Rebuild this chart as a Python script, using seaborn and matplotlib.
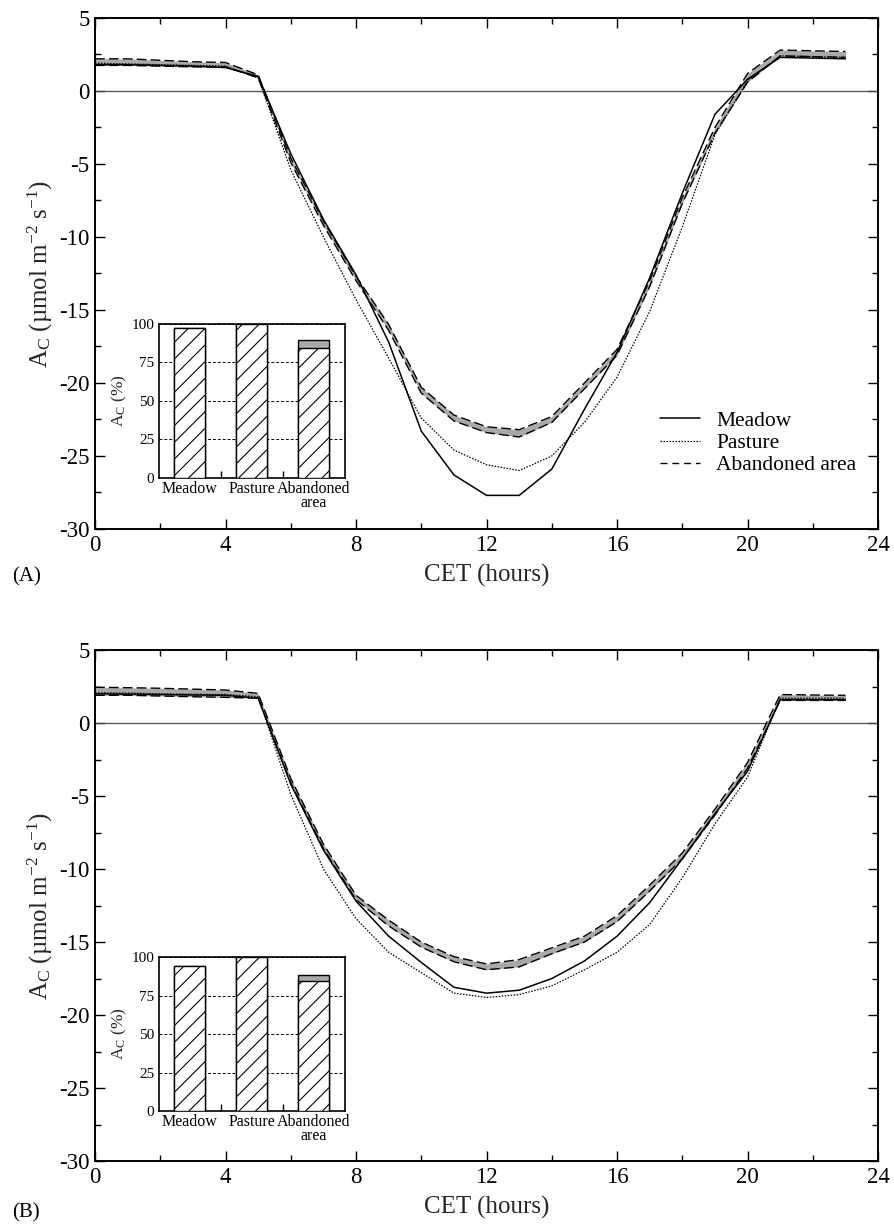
import matplotlib
matplotlib.use("Agg")
import matplotlib.pyplot as plt
from matplotlib.ticker import MultipleLocator, FixedLocator
from matplotlib.lines import Line2D
import pandas as pd
import seaborn as sns

# Hourly net CO2 exchange (A_C, µmol m-2 s-1) for three grassland managements
hours = list(range(24))

# Panel A
meadow_a = [1.8, 1.8, 1.75, 1.7, 1.6, 1.0, -4.3, -8.8, -12.6, -17.2, -23.3, -26.3,
            -27.7, -27.7, -25.9, -21.8, -17.9, -12.8, -7.0, -1.6, 0.8, 2.3, 2.25, 2.2]
pasture_a = [1.9, 1.85, 1.8, 1.75, 1.7, 0.9, -5.4, -10.0, -14.3, -18.3, -22.4, -24.6,
             -25.6, -26.0, -25.0, -22.7, -19.6, -15.1, -9.3, -3.0, 0.7, 2.4, 2.35, 2.3]
abandoned_a_low = [1.75, 1.75, 1.7, 1.65, 1.65, 0.9, -4.9, -9.2, -13.0, -16.4, -20.7, -22.6,
                   -23.4, -23.7, -22.7, -20.4, -18.1, -13.4, -7.7, -2.9, 0.6, 2.4, 2.35, 2.3]
abandoned_a_high = [2.2, 2.2, 2.1, 2.0, 1.95, 1.1, -4.6, -8.9, -12.7, -16.0, -20.3, -22.2,
                    -23.0, -23.2, -22.3, -20.0, -17.7, -13.0, -7.3, -2.5, 1.2, 2.8, 2.75, 2.7]

# Panel B
meadow_b = [2.0, 1.98, 1.95, 1.92, 1.9, 1.7, -4.2, -8.7, -12.2, -14.6, -16.4, -18.1,
            -18.5, -18.3, -17.5, -16.3, -14.6, -12.3, -9.3, -6.2, -3.3, 1.6, 1.6, 1.6]
pasture_b = [2.07, 2.05, 2.0, 1.97, 1.95, 1.8, -4.9, -10.0, -13.4, -15.7, -17.1, -18.5,
             -18.8, -18.6, -18.0, -16.9, -15.7, -13.8, -10.6, -6.9, -3.7, 1.7, 1.7, 1.7]
abandoned_b_low = [1.9, 1.9, 1.85, 1.8, 1.76, 1.7, -4.1, -8.6, -12.1, -13.9, -15.35, -16.35,
                   -16.9, -16.7, -15.8, -15.0, -13.6, -11.5, -9.3, -6.3, -3.1, 1.55, 1.55, 1.55]
abandoned_b_high = [2.45, 2.42, 2.38, 2.32, 2.26, 2.03, -3.8, -8.3, -11.8, -13.5, -15.0, -16.0,
                    -16.5, -16.2, -15.4, -14.6, -13.2, -11.1, -8.9, -5.9, -2.7, 1.95, 1.92, 1.9]

# Inset: daily A_C relative to the maximum (%)
inset_cats = ["Meadow", "Pasture", "Abandoned\narea"]
inset_a_mean = [97.4, 100.0, 84.6]
inset_a_top = [97.4, 100.0, 89.6]
inset_b_mean = [94.2, 100.0, 84.2]
inset_b_top = [94.2, 100.0, 88.1]

legend_labels = ["Meadow", "Pasture", "Abandoned area"]

sns.set_theme(style="ticks")
plt.rcParams.update({
    "font.family": ["Liberation Serif", "DejaVu Serif"],
    "mathtext.fontset": "custom",
    "mathtext.rm": "Liberation Serif",
    "mathtext.it": "Liberation Serif:italic",
    "axes.unicode_minus": False,
    "hatch.linewidth": 0.8,
    "axes.edgecolor": "black",
    "text.color": "black",
    "xtick.color": "black",
    "ytick.color": "black",
})

BAND = "#a9a9a9"
SOLID = "-"
DOTTED = (0, (1.2, 1.2))
DASHED = (0, (7, 3))

fig = plt.figure(figsize=(8.94, 12.29), dpi=100)
ax_a = fig.add_axes([0.1063, 0.5696, 0.8759, 0.4158])
ax_b = fig.add_axes([0.1063, 0.0553, 0.8759, 0.4158])
in_a = fig.add_axes([0.1773, 0.6111, 0.2081, 0.1253])
in_b = fig.add_axes([0.1773, 0.0960, 0.2081, 0.1253])


def draw_main(ax, meadow, pasture, ab_low, ab_high):
    df = pd.DataFrame({"CET": hours, "Meadow": meadow, "Pasture": pasture,
                       "ab_low": ab_low, "ab_high": ab_high})
    ax.axhline(0, color="0.3", lw=0.9, zorder=1)
    ax.fill_between(df["CET"], df["ab_low"], df["ab_high"], color=BAND, lw=0, zorder=2)
    sns.lineplot(data=df, x="CET", y="ab_low", ax=ax, color="black", lw=1.0,
                 linestyle=DASHED, zorder=3)
    sns.lineplot(data=df, x="CET", y="ab_high", ax=ax, color="black", lw=1.0,
                 linestyle=DASHED, zorder=3)
    sns.lineplot(data=df, x="CET", y="Pasture", ax=ax, color="black", lw=0.9,
                 linestyle=DOTTED, zorder=4)
    sns.lineplot(data=df, x="CET", y="Meadow", ax=ax, color="black", lw=1.1,
                 linestyle=SOLID, zorder=4)
    ax.set_xlim(0, 24)
    ax.set_ylim(-30, 5)
    ax.xaxis.set_major_locator(MultipleLocator(4))
    ax.xaxis.set_minor_locator(MultipleLocator(2))
    ax.yaxis.set_major_locator(MultipleLocator(5))
    ax.yaxis.set_minor_locator(MultipleLocator(2.5))
    ax.tick_params(which="both", direction="in", top=True, right=True, width=1.0,
                   labelsize=16.5, pad=4)
    ax.tick_params(which="major", length=7)
    ax.tick_params(which="minor", length=4)
    for sp in ax.spines.values():
        sp.set_linewidth(1.4)
    ax.set_xlabel("CET (hours)", fontsize=18, labelpad=6)
    ax.set_ylabel(r"A$_\mathrm{C}$ (µmol m$^{-2}$ s$^{-1}$)", fontsize=18, labelpad=3)


def draw_inset(ax, mean, top):
    dfb = pd.DataFrame({"cat": inset_cats, "mean": mean, "top": top})
    ax.set_axisbelow(True)
    ax.yaxis.grid(True, linestyle=(0, (3, 2)), color="black", lw=0.7)
    sns.barplot(data=dfb, x="cat", y="top", ax=ax, color=BAND, saturation=1,
                width=0.5, edgecolor="black", linewidth=1.0, zorder=2)
    sns.barplot(data=dfb, x="cat", y="mean", ax=ax, color="white", saturation=1,
                width=0.5, edgecolor="black", linewidth=1.0, hatch="//", zorder=3)
    ax.set_xlim(-0.5, 2.5)
    ax.set_ylim(0, 100)
    ax.yaxis.set_major_locator(FixedLocator([0, 25, 50, 75, 100]))
    ax.xaxis.set_minor_locator(FixedLocator([0.5, 1.5]))
    ax.tick_params(axis="x", which="major", length=0, labelsize=11.5, pad=2)
    ax.tick_params(axis="x", which="minor", direction="in", length=5, width=1.0)
    ax.tick_params(axis="y", which="major", length=0, labelsize=11, pad=3)
    for lab in ax.get_xticklabels():
        lab.set_linespacing(0.85)
    for sp in ax.spines.values():
        sp.set_linewidth(1.2)
    ax.set_xlabel("")
    ax.set_ylabel(r"A$_\mathrm{C}$ (%)", fontsize=12.5, labelpad=2)


draw_main(ax_a, meadow_a, pasture_a, abandoned_a_low, abandoned_a_high)
draw_main(ax_b, meadow_b, pasture_b, abandoned_b_low, abandoned_b_high)
draw_inset(in_a, inset_a_mean, inset_a_top)
draw_inset(in_b, inset_b_mean, inset_b_top)

handles = [Line2D([], [], color="black", lw=1.1, linestyle=SOLID),
           Line2D([], [], color="black", lw=0.9, linestyle=DOTTED),
           Line2D([], [], color="black", lw=1.0, linestyle=(0, (5, 3.5)))]
ax_a.legend(handles, legend_labels, loc="center left", bbox_to_anchor=(0.7216, 0.168),
            frameon=False, fontsize=15.5, handlelength=1.85, handletextpad=0.75,
            labelspacing=0.1, borderpad=0, borderaxespad=0)

fig.text(0.0134, 0.5305, "(A)", fontsize=15, va="center", ha="left")
fig.text(0.0134, 0.013, "(B)", fontsize=15, va="center", ha="left")

fig.savefig("out.png", dpi=100)
